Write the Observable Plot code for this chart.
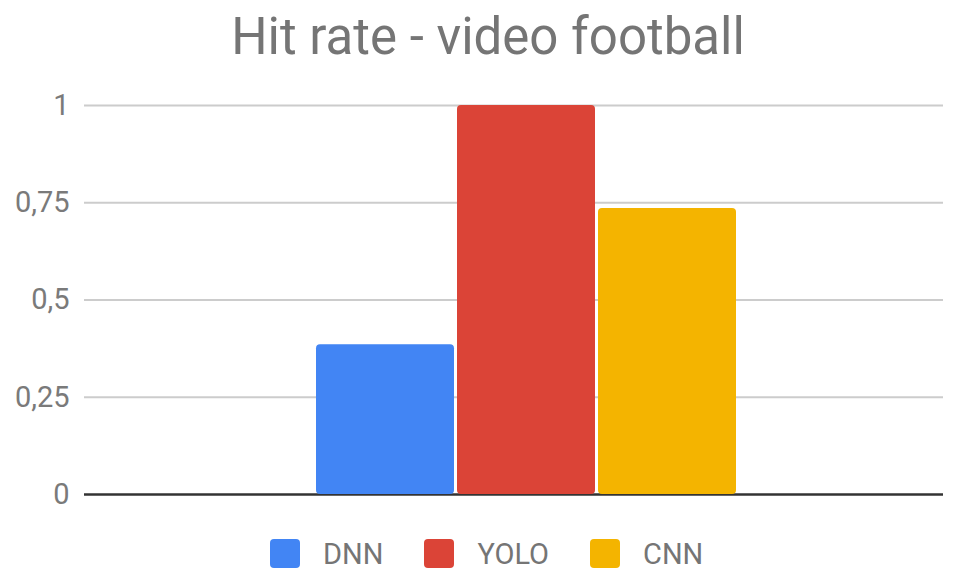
<!DOCTYPE html>
<html>
<head>
<meta charset="utf-8">
<script src="https://cdn.jsdelivr.net/npm/d3@7"></script>
<script src="https://cdn.jsdelivr.net/npm/@observablehq/plot@0.6"></script>
<style>
  html, body { margin: 0; padding: 0; background: #fff; }
  #wrap { position: relative; width: 958px; height: 569px; overflow: hidden; font-family: Roboto, "Noto Sans", sans-serif; }
  #title { position: absolute; left: 0; width: 976px; top: 11px; text-align: center; font-size: 51px; line-height: 51px; color: #757575; white-space: nowrap; }
  #chart { position: absolute; left: 0; top: 80px; }
  #legend { position: absolute; top: 539px; left: 270px; display: flex; align-items: center; height: 29px; font-size: 29px; color: #757575; }
  .item { display: flex; align-items: center; }
  .sw { width: 30px; height: 29px; border-radius: 4px; margin-right: 23px; }
  .lab { margin-right: 41px; }
</style>
</head>
<body>
<div id="wrap">
  <div id="title">Hit rate - video football</div>
  <div id="chart"></div>
  <div id="legend"></div>
</div>
<script>
// Series for the single category "video football"
const models = ["DNN", "YOLO", "CNN"];
const hitRate = [0.385, 1, 0.735];
const colors = ["#4285F4", "#DB4437", "#F4B400"];
const yTicks = [0, 0.25, 0.5, 0.75, 1];

const rows = models.map((m, i) => ({model: m, value: hitRate[i]}));
const fmt = d => String(d).replace(".", ",");

const chart = Plot.plot({
  width: 958,
  height: 440,
  marginTop: 25,
  marginBottom: 26,
  marginLeft: 84,
  marginRight: 15,
  style: {fontFamily: "Roboto, sans-serif", fontSize: "29px", color: "#757575", background: "transparent"},
  x: {domain: models, range: [315, 737], paddingInner: 0.022, paddingOuter: 0, axis: null},
  y: {domain: [0, 1], ticks: yTicks, label: null},
  color: {domain: models, range: colors},
  marks: [
    Plot.gridY(yTicks.filter(t => t > 0), {stroke: "#cccccc", strokeOpacity: 1, strokeWidth: 2}),
    Plot.ruleY([0], {stroke: "#333333", strokeWidth: 2.5}),
    Plot.barY(rows, {x: "model", y: "value", fill: "model", rx: 4}),
    Plot.axisY(yTicks, {tickSize: 0, tickPadding: 15, tickFormat: fmt, fill: "#7a7a7a", fontSize: 29, label: null})
  ]
});
document.getElementById("chart").appendChild(chart);

const legend = document.getElementById("legend");
models.forEach((m, i) => {
  const item = document.createElement("div");
  item.className = "item";
  const sw = document.createElement("div");
  sw.className = "sw";
  sw.style.background = colors[i];
  const lab = document.createElement("div");
  lab.className = "lab";
  lab.textContent = m;
  item.appendChild(sw);
  item.appendChild(lab);
  legend.appendChild(item);
});
</script>
</body>
</html>
